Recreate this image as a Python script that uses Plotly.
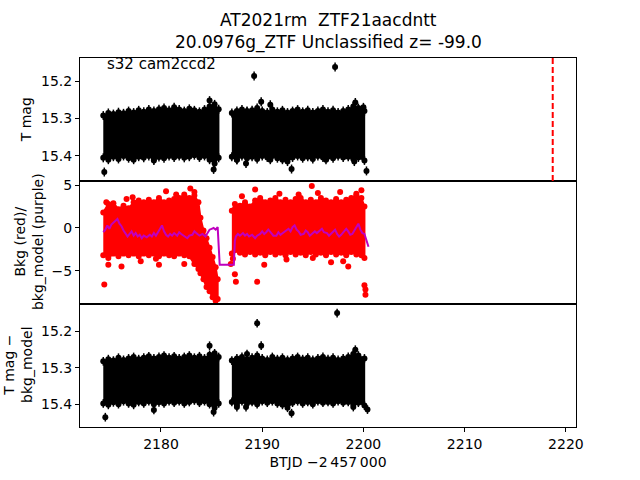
import plotly.graph_objects as go
from plotly.subplots import make_subplots

# ---------------- data ----------------
# Top panel: T mag dense band, envelope per time sample (two orbits)
seg1_t = [2174.3, 2174.8, 2175.3, 2175.8, 2176.3, 2176.8, 2177.3, 2177.8, 2178.3, 2178.8,
          2179.3, 2179.8, 2180.3, 2180.8, 2181.3, 2181.8, 2182.3, 2182.8, 2183.3, 2183.8,
          2184.3, 2184.8, 2185.3, 2185.7]
seg2_t = [2187.0, 2187.5, 2188.0, 2188.5, 2189.0, 2189.5, 2190.0, 2190.5, 2191.0, 2191.5,
          2192.0, 2192.5, 2193.0, 2193.5, 2194.0, 2194.5, 2195.0, 2195.5, 2196.0, 2196.5,
          2197.0, 2197.5, 2198.0, 2198.5, 2199.0, 2199.5, 2200.1]

tmag_hi1 = [15.292, 15.285, 15.288, 15.283, 15.286, 15.280, 15.284, 15.278, 15.282, 15.276,
            15.280, 15.275, 15.272, 15.278, 15.270, 15.276, 15.280, 15.274, 15.278, 15.282,
            15.276, 15.268, 15.262, 15.275]
tmag_lo1 = [15.405, 15.410, 15.402, 15.408, 15.400, 15.406, 15.410, 15.402, 15.405, 15.400,
            15.408, 15.403, 15.406, 15.400, 15.404, 15.400, 15.405, 15.402, 15.398, 15.404,
            15.400, 15.410, 15.420, 15.405]
tmag_hi2 = [15.285, 15.280, 15.276, 15.282, 15.278, 15.272, 15.280, 15.284, 15.276, 15.282,
            15.278, 15.284, 15.280, 15.276, 15.282, 15.278, 15.284, 15.280, 15.276, 15.282,
            15.278, 15.284, 15.280, 15.276, 15.268, 15.272, 15.280]
tmag_lo2 = [15.402, 15.410, 15.400, 15.406, 15.402, 15.408, 15.400, 15.404, 15.400, 15.406,
            15.410, 15.415, 15.404, 15.400, 15.406, 15.402, 15.408, 15.400, 15.404, 15.402,
            15.406, 15.400, 15.404, 15.402, 15.408, 15.404, 15.412]

tmag_out_t = [2189.2, 2197.2, 2184.8, 2189.9, 2190.8, 2188.5, 2199.2, 2200.0,
              2174.4, 2185.2, 2179.3, 2187.5, 2188.4, 2192.9, 2199.1, 2200.3, 2190.8, 2196.3]
tmag_out_v = [15.186, 15.162, 15.252, 15.255, 15.263, 15.280, 15.257, 15.270,
              15.443, 15.436, 15.412, 15.410, 15.420, 15.435, 15.415, 15.440, 15.410, 15.410]
tmag_err = 0.012

# Middle panel: background flux (red) envelope and model (purple)
bkg_t1 = [2174.3, 2174.8, 2175.3, 2175.8, 2176.3, 2176.8, 2177.3, 2177.8, 2178.3, 2178.8,
          2179.3, 2179.8, 2180.3, 2180.8, 2181.3, 2181.8, 2182.3, 2182.8, 2183.3, 2183.7,
          2183.9, 2184.2, 2184.5, 2184.8, 2185.1, 2185.4, 2185.6]
bkg_hi1 = [1.8, 2.8, 2.9, 2.2, 2.6, 2.3, 3.0, 3.2, 3.0, 3.3,
           3.0, 3.5, 3.0, 3.2, 3.4, 3.5, 3.9, 3.5, 3.8, 3.0,
           1.2, -0.3, -1.2, -2.3, -3.4, -4.6, -6.0]
bkg_lo1 = [-3.2, -3.5, -3.0, -3.3, -3.0, -3.2, -3.0, -3.3, -3.0, -3.2,
           -3.0, -3.3, -3.0, -3.2, -3.3, -3.0, -3.2, -3.3, -4.2, -4.8,
           -5.3, -6.0, -6.9, -7.4, -8.1, -8.5, -8.3]
bkg_t2 = [2187.0, 2187.3, 2187.8, 2188.3, 2188.8, 2189.3, 2189.8, 2190.3, 2190.8, 2191.3,
          2191.8, 2192.3, 2192.8, 2193.3, 2193.8, 2194.3, 2194.8, 2195.3, 2195.8, 2196.3,
          2196.8, 2197.3, 2197.8, 2198.3, 2198.8, 2199.3, 2199.8, 2200.1]
bkg_hi2 = [2.0, 2.8, 2.6, 3.0, 2.5, 3.2, 3.5, 3.0, 3.2, 3.5,
           3.0, 3.3, 3.0, 3.4, 3.5, 3.0, 3.3, 3.0, 3.5, 3.2,
           3.0, 3.4, 3.0, 3.3, 3.5, 3.8, 3.5, 2.5]
bkg_lo2 = [-3.0, -2.6, -2.9, -3.1, -2.8, -3.1, -2.9, -3.2, -2.8, -3.1,
           -2.9, -3.2, -2.8, -3.1, -2.9, -3.2, -2.8, -3.1, -2.9, -3.2,
           -2.8, -3.1, -2.9, -3.2, -2.8, -3.1, -3.2, -3.5]

bkg_out_t = [2174.4, 2174.8, 2176.1, 2179.8, 2182.3, 2180.5, 2182.9, 2189.3, 2194.9, 2199.8,
             2187.3, 2187.4, 2189.5, 2190.2, 2196.8, 2198.5, 2200.1, 2200.2, 2200.2, 2178.0,
             2177.2, 2181.5, 2183.3, 2188.0, 2191.7, 2193.6, 2195.5, 2197.7, 2199.3, 2176.6,
             2186.9, 2187.1, 2192.4, 2195.0, 2198.0, 2179.5, 2174.6]
bkg_out_v = [-6.6, -4.3, -4.5, -4.3, -4.2, 4.3, 4.6, 4.5, 4.9, 4.4,
             -5.4, -6.3, -6.3, -4.3, -4.0, -4.5, -6.7, -7.2, -7.8, -3.9,
             3.6, 3.9, 4.2, 3.7, 4.0, 3.9, 4.1, 4.2, 4.0, 3.4,
             -4.2, -3.6, -3.7, -3.5, -3.9, -3.6, 3.0]

model_t = [2174.3, 2174.5, 2174.7, 2174.9, 2175.1, 2175.3, 2175.5, 2175.7, 2175.9, 2176.1,
           2176.3, 2176.5, 2176.7, 2176.9, 2177.1, 2177.3, 2177.5, 2177.7, 2177.9, 2178.1,
           2178.3, 2178.6, 2178.9, 2179.1, 2179.3, 2179.5, 2179.8, 2180.0, 2180.1, 2180.3,
           2180.5, 2180.7, 2180.9, 2181.1, 2181.3, 2181.6, 2181.8, 2182.0, 2182.3, 2182.6,
           2182.8, 2183.1, 2183.3, 2183.6, 2183.8, 2184.1, 2184.4, 2184.6, 2184.8, 2185.0,
           2185.2, 2185.4, 2185.6, 2185.8,
           2187.2, 2187.3, 2187.4, 2187.6, 2187.8, 2188.1, 2188.3, 2188.5, 2188.7, 2189.0,
           2189.3, 2189.5, 2189.8, 2190.0, 2190.2, 2190.4, 2190.6, 2190.9, 2191.1, 2191.4,
           2191.6, 2191.8, 2192.0, 2192.3, 2192.6, 2192.8, 2193.0, 2193.2, 2193.4, 2193.6,
           2193.8, 2194.1, 2194.3, 2194.5, 2194.7, 2194.9, 2195.2, 2195.4, 2195.7, 2195.9,
           2196.1, 2196.4, 2196.6, 2196.8, 2197.0, 2197.2, 2197.4, 2197.6, 2197.8, 2198.0,
           2198.3, 2198.5, 2198.7, 2198.9, 2199.1, 2199.3, 2199.5, 2199.7, 2199.9, 2200.1,
           2200.3, 2200.5]
model_v = [-0.5, -0.2, 0.3, -0.1, 0.4, 0.6, 0.9, 1.05, 0.5, 0.2,
           -0.3, -0.6, -1.0, -0.7, -0.4, -0.9, -0.6, -1.0, -0.8, -1.2,
           -0.9, -1.1, -0.8, -1.0, -0.6, -0.9, -0.3, 0.2, 0.3, -0.4,
           -0.8, -1.0, -0.7, -0.9, -0.6, -0.9, -0.5, -0.7, -1.0, -1.2,
           -0.9, -0.8, -0.4, -0.7, -0.9, -0.7, -1.0, -0.6, -0.2, -0.1,
           0.0, -0.2, 0.1, -4.3,
           -4.3, -1.5, -1.0, -0.7, -0.9, -0.6, -0.9, -0.7, -1.0, -0.8,
           -1.2, -0.9, -0.7, -0.4, -0.7, -0.5, -0.2, -0.6, -0.9, -0.9,
           -0.5, -0.8, -0.6, -0.3, -0.1, -0.4, 0.1, 0.3, -0.2, -0.4,
           -0.8, -0.7, -0.3, -0.5, -0.9, -0.7, -0.4, -0.6, -0.3, -0.1,
           -0.5, -0.6, -0.9, -0.7, -0.4, -0.2, -0.7, -1.0, -0.8, -0.5,
           -0.1, -0.4, -0.8, -0.7, -0.3, 0.1, 0.5, -0.2, -0.6, -0.7,
           -1.5, -2.2]

# Bottom panel: T mag - bkg_model band
cor_hi1 = [15.282, 15.276, 15.280, 15.272, 15.278, 15.274, 15.270, 15.276, 15.272, 15.268,
           15.274, 15.270, 15.266, 15.272, 15.268, 15.274, 15.270, 15.266, 15.272, 15.268,
           15.274, 15.264, 15.260, 15.270]
cor_lo1 = [15.398, 15.402, 15.395, 15.400, 15.392, 15.398, 15.402, 15.394, 15.398, 15.392,
           15.400, 15.395, 15.398, 15.392, 15.396, 15.392, 15.398, 15.394, 15.390, 15.396,
           15.392, 15.400, 15.410, 15.398]
cor_hi2 = [15.280, 15.274, 15.270, 15.276, 15.272, 15.266, 15.274, 15.278, 15.270, 15.276,
           15.272, 15.278, 15.274, 15.270, 15.276, 15.272, 15.278, 15.274, 15.270, 15.276,
           15.272, 15.278, 15.274, 15.270, 15.262, 15.266, 15.274]
cor_lo2 = [15.394, 15.402, 15.392, 15.398, 15.394, 15.400, 15.392, 15.396, 15.392, 15.398,
           15.402, 15.410, 15.396, 15.392, 15.398, 15.394, 15.400, 15.392, 15.396, 15.394,
           15.398, 15.392, 15.396, 15.394, 15.400, 15.396, 15.404]

cor_out_t = [2189.5, 2197.4, 2184.8, 2189.9, 2199.2, 2188.5,
             2174.5, 2185.2, 2179.3, 2192.9, 2187.5, 2188.4, 2199.0, 2200.4]
cor_out_v = [15.177, 15.149, 15.239, 15.239, 15.250, 15.262,
             15.436, 15.422, 15.416, 15.425, 15.408, 15.408, 15.408, 15.415]

peak_t = 2218.7

title_lines = ["AT2021rm  ZTF21aacdntt", "20.0976g_ZTF Unclassified z= -99.0"]
field_label = "s32 cam2ccd2"
x_ticks = [2180, 2190, 2200, 2210, 2220]
mag_ticks = [15.2, 15.3, 15.4]
bkg_ticks = [-5, 0, 5]

# ---------------- figure ----------------
FONT = "DejaVu Sans"
fig = make_subplots(rows=3, cols=1, shared_xaxes=True, vertical_spacing=0)


def band(t, hi, lo, color, row, lw, err=None):
    fig.add_trace(go.Scatter(x=t + t[::-1], y=hi + lo[::-1], fill="toself",
                             fillcolor=color, mode="lines",
                             line=dict(color=color, width=lw),
                             hoverinfo="skip", showlegend=False), row=row, col=1)
    # the envelope samples themselves, drawn as points (ragged edges)
    kw = {}
    if err is not None:
        kw["error_y"] = dict(type="constant", value=err, color=color, thickness=1.5, width=0)
    fig.add_trace(go.Scatter(x=t + t, y=hi + lo, mode="markers",
                             marker=dict(color=color, size=6), showlegend=False,
                             hoverinfo="skip", **kw), row=row, col=1)


band(seg1_t, tmag_hi1, tmag_lo1, "black", 1, 1.5, tmag_err)
band(seg2_t, tmag_hi2, tmag_lo2, "black", 1, 1.5, tmag_err)
fig.add_trace(go.Scatter(x=tmag_out_t, y=tmag_out_v, mode="markers",
                         marker=dict(color="black", size=6),
                         error_y=dict(type="constant", value=tmag_err, color="black",
                                      thickness=1.5, width=0),
                         showlegend=False), row=1, col=1)

band(bkg_t1, bkg_hi1, bkg_lo1, "red", 2, 2)
band(bkg_t2, bkg_hi2, bkg_lo2, "red", 2, 2)
fig.add_trace(go.Scatter(x=bkg_out_t, y=bkg_out_v, mode="markers",
                         marker=dict(color="red", size=6), showlegend=False), row=2, col=1)
fig.add_trace(go.Scatter(x=model_t, y=model_v, mode="lines",
                         line=dict(color="#bf00bf", width=2), showlegend=False), row=2, col=1)

band(seg1_t, cor_hi1, cor_lo1, "black", 3, 1.5, tmag_err)
band(seg2_t, cor_hi2, cor_lo2, "black", 3, 1.5, tmag_err)
fig.add_trace(go.Scatter(x=cor_out_t, y=cor_out_v, mode="markers",
                         marker=dict(color="black", size=6),
                         error_y=dict(type="constant", value=tmag_err, color="black",
                                      thickness=1.5, width=0),
                         showlegend=False), row=3, col=1)

fig.add_vline(x=peak_t, line=dict(color="red", width=2, dash="6px,3px"), row=1, col=1)

axis_common = dict(showline=True, linecolor="black", linewidth=1, mirror=True,
                   showgrid=False, zeroline=False, ticks="outside", ticklen=4,
                   tickcolor="black", automargin=False,
                   tickfont=dict(family=FONT, size=14, color="black"))

fig.update_xaxes(range=[2172.0, 2221.0], tickvals=x_ticks, **axis_common)
fig.update_xaxes(ticks="", showticklabels=False, row=1, col=1)
fig.update_xaxes(ticks="", showticklabels=False, row=2, col=1)
fig.update_xaxes(title=dict(text="BTJD \u22122\u2009457\u2009000",
                            font=dict(family=FONT, size=14, color="black"), standoff=6),
                 row=3, col=1)

fig.update_yaxes(range=[15.467, 15.138], tickvals=mag_ticks,
                 ticktext=[f"{v:.1f}" for v in mag_ticks], row=1, col=1, **axis_common)
fig.update_yaxes(range=[-8.89, 5.49], tickvals=bkg_ticks,
                 ticktext=["\u22125", "0", "5"], row=2, col=1, **axis_common)
fig.update_yaxes(range=[15.463, 15.124], tickvals=mag_ticks,
                 ticktext=[f"{v:.1f}" for v in mag_ticks], row=3, col=1, **axis_common)

H = 369.6
TOP = 57.6


def py(pix):
    return 1 - (pix - TOP) / H


def px(pix):
    return (pix - 80) / 496


ann_font = dict(family=FONT, size=14, color="black")
title_font = dict(family=FONT, size=17, color="black")
annotations = [
    dict(text=title_lines[0], xref="paper", yref="paper", x=px(328), y=py(20),
         xanchor="center", yanchor="middle", showarrow=False, font=title_font),
    dict(text=title_lines[1], xref="paper", yref="paper", x=px(328), y=py(42),
         xanchor="center", yanchor="middle", showarrow=False, font=title_font),
    dict(text=field_label, xref="x domain", yref="y domain", x=0.05, y=0.95,
         xanchor="left", yanchor="middle", showarrow=False,
         font=dict(family=FONT, size=15, color="black")),
    dict(text="T mag", xref="paper", yref="paper", x=px(26), y=py(120),
         textangle=-90, showarrow=False, font=ann_font, xanchor="center", yanchor="middle"),
    dict(text="Bkg (red)/<br>bkg_model (purple)", xref="paper", yref="paper",
         x=px(29), y=py(242),
         textangle=-90, showarrow=False, font=ann_font, xanchor="center", yanchor="middle"),
    dict(text="T mag \u2212<br>bkg_model", xref="paper", yref="paper",
         x=px(18), y=py(365),
         textangle=-90, showarrow=False, font=ann_font, xanchor="center", yanchor="middle"),
]
for a in annotations:
    fig.add_annotation(**a)

fig.update_layout(
    width=640, height=480,
    margin=dict(l=80, r=64, t=57.6, b=52.8),
    paper_bgcolor="white", plot_bgcolor="white",
    showlegend=False,
)

fig.write_html("out.html", config={"displayModeBar": False},
               post_script="document.body.style.margin='0';")
